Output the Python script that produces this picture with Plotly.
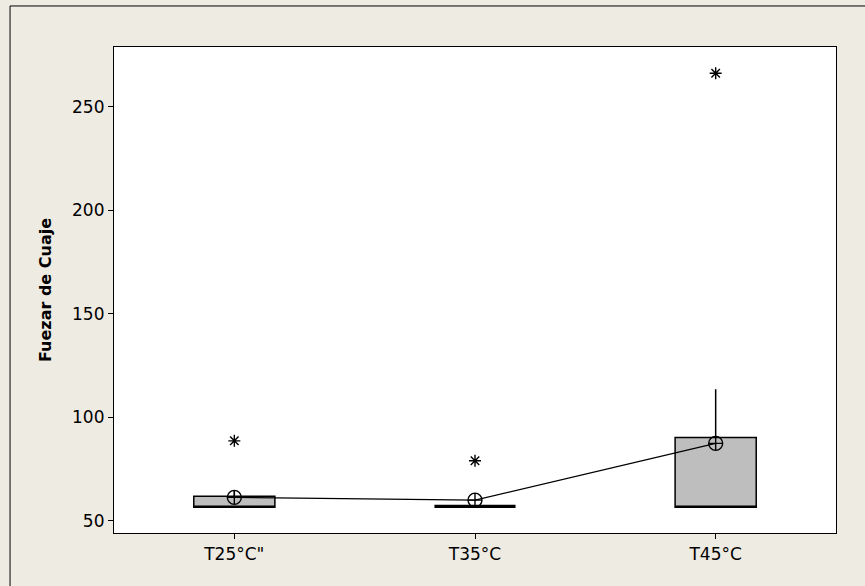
import plotly.graph_objects as go

categories = ['T25°C"', "T35°C", "T45°C"]
q1 = [56.6, 57.1, 56.6]
median = [56.6, 57.1, 56.6]
q3 = [61.9, 57.1, 90.3]
lower = [56.6, 57.1, 56.6]
upper = [64.8, 57.1, 113.6]
means = [61.4, 60.1, 87.5]
out_x = ['T25°C"', "T35°C", "T45°C"]
out_y = [88.7, 79.1, 266.2]
y_ticks = [50, 100, 150, 200, 250]
box_line_widths = [1.5, 3.2, 1.5]

fig = go.Figure()
for i, cat in enumerate(categories):
    fig.add_trace(go.Box(
        x=[cat], q1=[q1[i]], median=[median[i]], q3=[q3[i]],
        lowerfence=[lower[i]], upperfence=[upper[i]],
        width=0.337, whiskerwidth=0,
        fillcolor="#BEBEBE", line=dict(color="black", width=box_line_widths[i]),
        boxpoints=False, showlegend=False, hoverinfo="skip",
    ))
fig.add_trace(go.Scatter(
    x=categories, y=means, mode="lines+markers",
    line=dict(color="black", width=1.2),
    marker=dict(symbol="circle-cross-open", size=14, color="black",
                line=dict(width=1.4, color="black")),
    showlegend=False,
))
fig.add_trace(go.Scatter(
    x=out_x, y=out_y, mode="markers",
    marker=dict(symbol="asterisk-open", size=10, color="black",
                line=dict(width=1.4, color="black")),
    showlegend=False,
))

fig.add_shape(type="rect", xref="paper", yref="paper",
              x0=-0.144, x1=1.08, y0=-0.2, y1=1.0844,
              line=dict(color="black", width=1), layer="below")

font = dict(family="DejaVu Sans, Tahoma, sans-serif", size=17, color="black")
fig.update_layout(
    width=865, height=586,
    margin=dict(l=114, r=29, t=47, b=53),
    paper_bgcolor="#EEEBE2", plot_bgcolor="white",
    font=font, boxmode="overlay",
)
fig.update_xaxes(
    type="category", range=[-0.5, 2.5], showgrid=False, zeroline=False,
    showline=True, linecolor="black", linewidth=1.2, mirror=True,
    ticks="outside", ticklen=5, tickcolor="black", tickwidth=1,
    categoryorder="array", categoryarray=categories,
)
fig.update_yaxes(
    range=[44.2, 278.9], showgrid=False, zeroline=False,
    showline=True, linecolor="black", linewidth=1.2, mirror=True,
    ticks="outside", ticklen=5, tickcolor="black", tickwidth=1,
    tickvals=y_ticks,
    title=dict(text="<b>Fuezar de Cuaje</b>", font=dict(size=16), standoff=16),
)
fig.write_html("out.html")
